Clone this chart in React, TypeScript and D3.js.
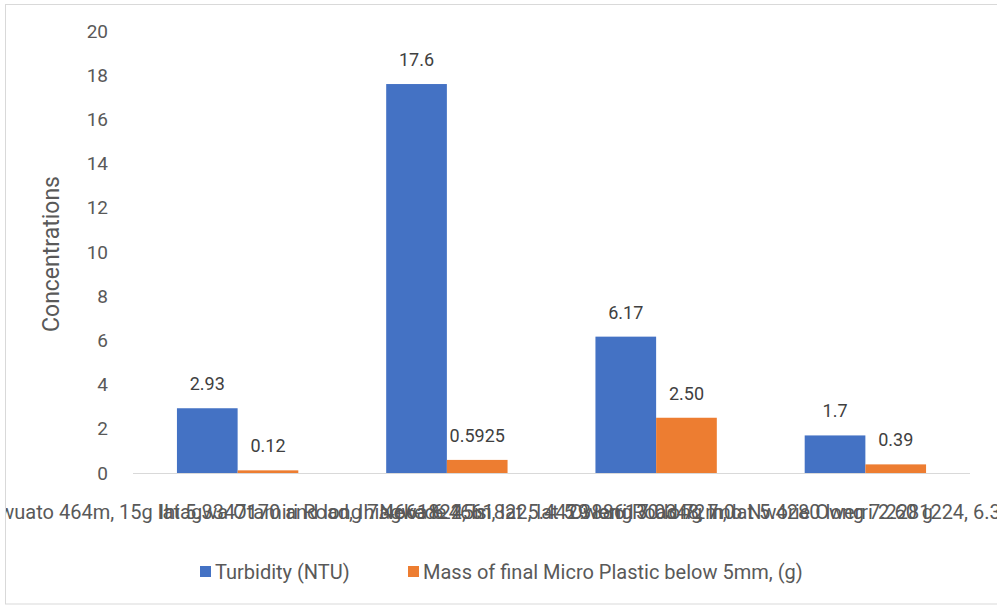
import React from "react";
import * as d3 from "d3";

const categories = [
  "Ikwuato 464m, 15g lat 5.3347170 and long 7.4661822, Isi",
  "Ihiagwa Otamiri Road, Ihiagwa 6.4661822, lat 5.3886130 long 7.0",
  "Nekede 45m, lat 5.4429 long 7.0348, Imo Nworie Owerri 2.60 g",
  "Owerri Road 72m, lat 5.4280 long 7.2281224, 6.304718910 and 7.1",
];
const turbidity = [2.93, 17.6, 6.17, 1.7];
const turbidityLabels = ["2.93", "17.6", "6.17", "1.7"];
const mass = [0.12, 0.5925, 2.5, 0.39];
const massLabels = ["0.12", "0.5925", "2.50", "0.39"];
const yTicks = [0, 2, 4, 6, 8, 10, 12, 14, 16, 18, 20];
const seriesNames = ["Turbidity (NTU)", "Mass of final Micro Plastic below 5mm, (g)"];
const colors = ["#4472C4", "#ED7D31"];

const W = 997, H = 608;
const font = "Roboto, 'Noto Sans', sans-serif";
const txt = "#595959";

export default function App() {
  const left = 133, right = 970, top = 31, bottom = 473;
  const x = d3.scaleBand<number>().domain(d3.range(categories.length)).range([left, right]).paddingInner(0.42).paddingOuter(0.21);
  const y = d3.scaleLinear().domain([0, 20]).range([bottom, top]);
  const sub = d3.scaleBand<number>().domain([0, 1]).range([0, x.bandwidth()]);
  const series = [turbidity, mass];
  const labels = [turbidityLabels, massLabels];
  return (
    <svg width={W} height={H} style={{ position: "absolute", left: 0, top: 0 }}>
      <defs>
        <clipPath id="chartClip">
          <rect x={6} y={5} width={W - 6} height={H - 9} />
        </clipPath>
      </defs>
      <rect x={0} y={0} width={W} height={H} fill="#fff" />
      <rect x={5.5} y={4.5} width={W} height={H - 8.5} fill="#fff" stroke="#d9d9d9" strokeWidth={1} />
      <g clipPath="url(#chartClip)" fontFamily={font}>
        {yTicks.map((t) => (
          <text key={t} x={108} y={y(t)} dy="0.35em" textAnchor="end" fontSize={19} fill={txt}>{t}</text>
        ))}
        <text transform={`translate(59,${(top + bottom) / 2 + 2}) rotate(-90)`} textAnchor="middle" fontSize={23} fill={txt}>Concentrations</text>
        {series.map((s, si) =>
          s.map((v, i) => {
            const bx = (x(i) as number) + (sub(si) as number);
            return (
              <g key={`${si}-${i}`}>
                <rect x={bx} y={y(v)} width={sub.bandwidth()} height={bottom - y(v)} fill={colors[si]} />
                <text x={bx + sub.bandwidth() / 2} y={y(v) - 18} textAnchor="middle" fontSize={18} fill="#404040">{labels[si][i]}</text>
              </g>
            );
          })
        )}
        <line x1={left} x2={right} y1={bottom + 0.5} y2={bottom + 0.5} stroke="#d9d9d9" strokeWidth={1} />
        {categories.map((c, i) => (
          <text key={i} x={(x(i) as number) + x.bandwidth() / 2} y={519} textAnchor="middle" fontSize={20} fill={txt}>{c}</text>
        ))}
        {seriesNames.map((n, i) => {
          const lx = i === 0 ? 200 : 408;
          return (
            <g key={n}>
              <rect x={lx} y={566} width={11} height={11} fill={colors[i]} />
              <text x={lx + 15} y={572} dy="0.35em" fontSize={20} fill={txt}>{n}</text>
            </g>
          );
        })}
      </g>
    </svg>
  );
}
